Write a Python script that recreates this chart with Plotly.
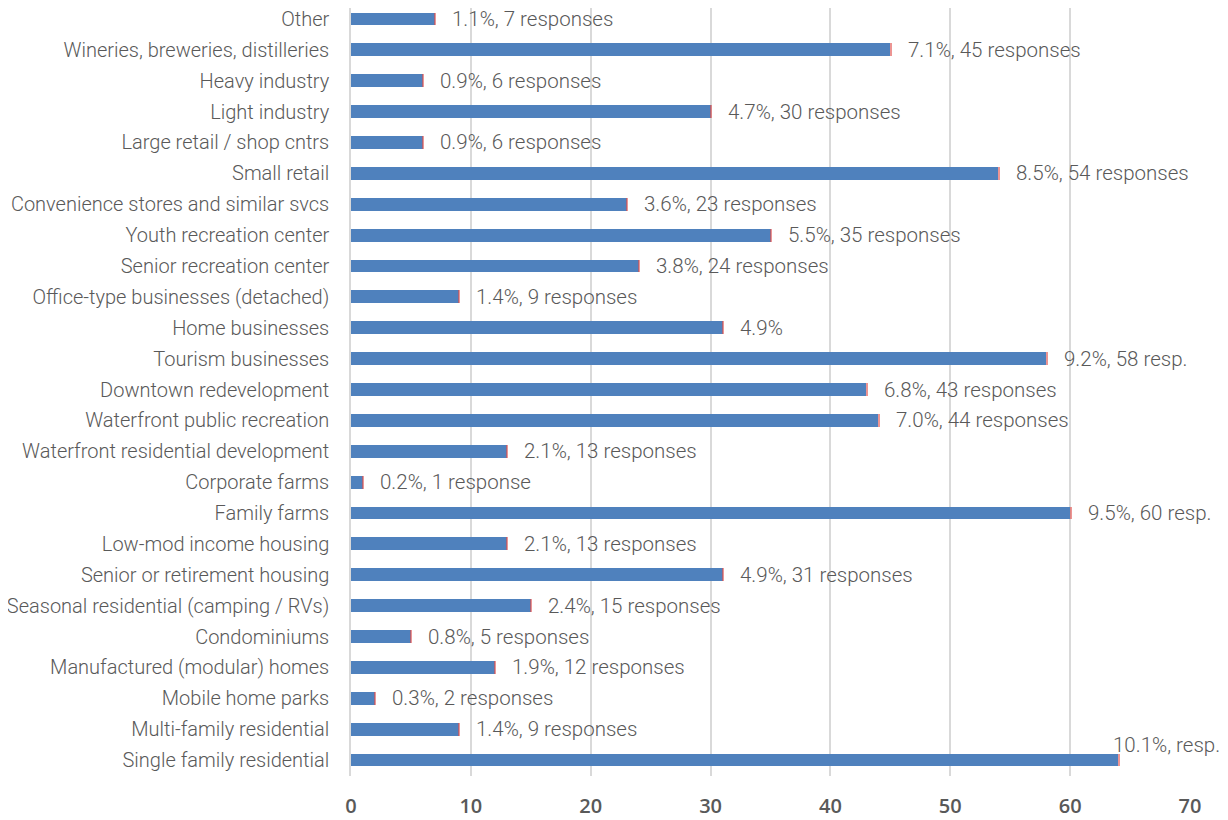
import plotly.graph_objects as go

categories = [
    "Other", "Wineries, breweries, distilleries", "Heavy industry", "Light industry",
    "Large retail / shop cntrs", "Small retail", "Convenience stores and similar svcs",
    "Youth recreation center", "Senior recreation center", "Office-type businesses (detached)",
    "Home businesses", "Tourism businesses", "Downtown redevelopment",
    "Waterfront public recreation", "Waterfront residential development", "Corporate farms",
    "Family farms", "Low-mod income housing", "Senior or retirement housing",
    "Seasonal residential (camping / RVs)", "Condominiums", "Manufactured (modular) homes",
    "Mobile home parks", "Multi-family residential", "Single family residential",
]
responses = [7, 45, 6, 30, 6, 54, 23, 35, 24, 9, 31, 58, 43, 44, 13, 1, 60, 13, 31, 15, 5, 12, 2, 9, 64]
percent = [1.1, 7.1, 0.9, 4.7, 0.9, 8.5, 3.6, 5.5, 3.8, 1.4, 4.9, 9.2, 6.8, 7.0, 2.1, 0.2, 9.5, 2.1,
           4.9, 2.4, 0.8, 1.9, 0.3, 1.4, 10.1]
labels = [
    "1.1%, 7 responses", "7.1%, 45 responses", "0.9%, 6 responses", "4.7%, 30 responses",
    "0.9%, 6 responses", "8.5%, 54 responses", "3.6%, 23 responses", "5.5%, 35 responses",
    "3.8%, 24 responses", "1.4%, 9 responses", "4.9%", "9.2%, 58 resp.", "6.8%, 43 responses",
    "7.0%, 44 responses", "2.1%, 13 responses", "0.2%, 1 response", "9.5%, 60 resp.",
    "2.1%, 13 responses", "4.9%, 31 responses", "2.4%, 15 responses", "0.8%, 5 responses",
    "1.9%, 12 responses", "0.3%, 2 responses", "1.4%, 9 responses", "10.1%, resp.",
]
x_ticks = [0, 10, 20, 30, 40, 50, 60, 70]

FONT = "Roboto"
TEXT_COLOR = "#595959"

fig = go.Figure()
fig.add_trace(go.Bar(
    y=categories, x=responses, orientation="h",
    marker=dict(color="#4F81BD", line=dict(width=0)), width=0.42,
    hoverinfo="x+y", name="Responses",
))
fig.add_trace(go.Bar(
    y=categories, x=[p / 100 for p in percent], orientation="h",
    marker=dict(color="#E0504D", line=dict(width=0)), width=0.42, opacity=0.6,
    name="Percent",
))

# label offsets (style only)
special = {"Single family residential": (-8, 15)}
for cat, val, pct, lab in zip(categories, responses, percent, labels):
    dx, dy = special.get(cat, (15, 0))
    fig.add_annotation(
        x=val + pct / 100, y=cat, text=lab, showarrow=False,
        xanchor="left", yanchor="middle", xshift=dx, yshift=dy,
        font=dict(family=FONT, size=20.5, color=TEXT_COLOR, weight=300),
    )

fig.update_layout(
    width=1220, height=812,
    barmode="stack", showlegend=False,
    plot_bgcolor="white", paper_bgcolor="white",
    margin=dict(l=343, r=38, t=0, b=44, autoexpand=False),
    xaxis=dict(
        range=[0, 70], tickvals=x_ticks, showgrid=True, gridcolor="#D9D9D9", gridwidth=1.5,
        zeroline=False, showline=False,
        tickfont=dict(family="Open Sans", size=20, color=TEXT_COLOR, weight=600),
        ticks="outside", ticklen=12, tickcolor="rgba(0,0,0,0)",
    ),
    yaxis=dict(
        categoryorder="array", categoryarray=categories[::-1],
        showline=True, linecolor="#D9D9D9", linewidth=1.5,
        tickfont=dict(family=FONT, size=20, color=TEXT_COLOR, weight=300),
        ticks="outside", ticklen=16, tickcolor="rgba(0,0,0,0)",
        range=[-0.518, 24.356],
    ),
)
fig.write_html("out.html")
